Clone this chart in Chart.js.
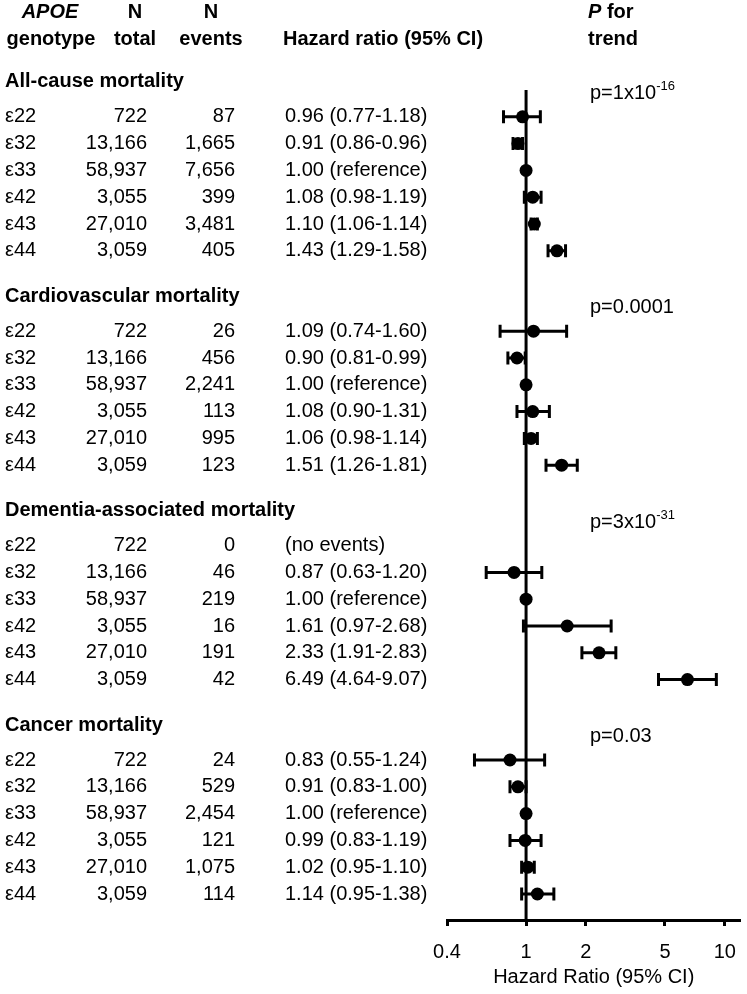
<!DOCTYPE html>
<html>
<head>
<meta charset="utf-8">
<script src="https://cdn.jsdelivr.net/npm/chart.js@4.4.1/dist/chart.umd.min.js"></script>
<style>
body{margin:0;background:#fff;}
</style>
</head>
<body>
<canvas id="myChart" width="747" height="994"></canvas>
<script>
var genotypes=['ε22','ε32','ε33','ε42','ε43','ε44'];
var outcomes=['All-cause mortality','Cardiovascular mortality','Dementia-associated mortality','Cancer mortality'];
var nTotal=['722','13,166','58,937','3,055','27,010','3,059'];
var nEvents=[
    ['87','1,665','7,656','399','3,481','405'],
    ['26','456','2,241','113','995','123'],
    ['0','46','219','16','191','42'],
    ['24','529','2,454','121','1,075','114']
];
// hazard ratios, null = no events
var hr=[
    [0.96,0.91,1.00,1.08,1.10,1.43],
    [1.09,0.90,1.00,1.08,1.06,1.51],
    [null,0.87,1.00,1.61,2.33,6.49],
    [0.83,0.91,1.00,0.99,1.02,1.14]
];
// lower / upper 95% CI, null for reference row
var lower=[
    [0.77,0.86,null,0.98,1.06,1.29],
    [0.74,0.81,null,0.90,0.98,1.26],
    [null,0.63,null,0.97,1.91,4.64],
    [0.55,0.83,null,0.83,0.95,0.95]
];
var upper=[
    [1.18,0.96,null,1.19,1.14,1.58],
    [1.60,0.99,null,1.31,1.14,1.81],
    [null,1.20,null,2.68,2.83,9.07],
    [1.24,1.00,null,1.19,1.10,1.38]
];
var pTrend=['p=1x10','p=0.0001','p=3x10','p=0.03'];
var pExp=['-16','','-31',''];
var xTicks=[0.4,1,2,5,10];

var FONT='"Liberation Sans", Arial, sans-serif';

// row position in "row units" on the y scale
function rowPos(g,r){
    return g*8+1.3+r;
}
function headPos(g){
    return g*8;
}

function hrLabel(g,r){
    if(hr[g][r]===null){
        return '(no events)';
    }
    if(lower[g][r]===null){
        return hr[g][r].toFixed(2)+' (reference)';
    }
    return hr[g][r].toFixed(2)+' ('+lower[g][r].toFixed(2)+'-'+upper[g][r].toFixed(2)+')';
}

var points=[];
for(var g=0;g<outcomes.length;g++){
    for(var r=0;r<genotypes.length;r++){
        if(hr[g][r]!==null){
            points.push({x:hr[g][r],y:rowPos(g,r)});
        }
    }
}

var errorBars={
    id:'errorBars',
    beforeDatasetsDraw:function(chart){
        var ctx=chart.ctx;
        var xs=chart.scales.x;
        var ys=chart.scales.y;
        ctx.save();
        ctx.strokeStyle='#000';
        ctx.lineWidth=3;
        // line of no effect
        var x1=xs.getPixelForValue(1);
        ctx.beginPath();
        ctx.moveTo(x1,chart.chartArea.top);
        ctx.lineTo(x1,chart.chartArea.bottom);
        ctx.stroke();
        for(var g=0;g<outcomes.length;g++){
            for(var r=0;r<genotypes.length;r++){
                if(lower[g][r]===null) continue;
                var y=ys.getPixelForValue(rowPos(g,r));
                var a=xs.getPixelForValue(lower[g][r]);
                var b=xs.getPixelForValue(upper[g][r]);
                ctx.beginPath();
                ctx.moveTo(a,y);ctx.lineTo(b,y);
                ctx.moveTo(a,y-6.5);ctx.lineTo(a,y+6.5);
                ctx.moveTo(b,y-6.5);ctx.lineTo(b,y+6.5);
                ctx.stroke();
            }
        }
        ctx.restore();
    }
};

var tableText={
    id:'tableText',
    afterDraw:function(chart){
        var ctx=chart.ctx;
        var ys=chart.scales.y;
        ctx.save();
        ctx.fillStyle='#000';
        ctx.textBaseline='middle';

        // column headers
        var h1=ys.getPixelForValue(-2.61);
        var h2=ys.getPixelForValue(-1.6);
        ctx.textAlign='center';
        ctx.font='italic bold 20px '+FONT;
        ctx.fillText('APOE',50,h1);
        ctx.font='bold 20px '+FONT;
        ctx.fillText('genotype',51,h2);
        ctx.fillText('N',135,h1);
        ctx.fillText('total',135,h2);
        ctx.fillText('N',211,h1);
        ctx.fillText('events',211,h2);
        ctx.textAlign='left';
        ctx.fillText('Hazard ratio (95% CI)',283,h2);
        ctx.font='italic bold 20px '+FONT;
        ctx.fillText('P',588,h1);
        var pw=ctx.measureText('P').width;
        ctx.font='bold 20px '+FONT;
        ctx.fillText(' for',588+pw,h1);
        ctx.fillText('trend',588,h2);

        for(var g=0;g<outcomes.length;g++){
            ctx.font='bold 20px '+FONT;
            ctx.textAlign='left';
            ctx.fillText(outcomes[g],5,ys.getPixelForValue(headPos(g)));

            // p for trend
            ctx.font='20px '+FONT;
            var py=ys.getPixelForValue(headPos(g)+0.42);
            ctx.fillText(pTrend[g],590,py);
            if(pExp[g]!==''){
                var w=ctx.measureText(pTrend[g]).width;
                ctx.font='13px '+FONT;
                ctx.fillText(pExp[g],590+w,py-7);
            }

            ctx.font='20px '+FONT;
            for(var r=0;r<genotypes.length;r++){
                var y=ys.getPixelForValue(rowPos(g,r));
                ctx.textAlign='left';
                ctx.fillText(genotypes[r],5,y);
                ctx.textAlign='right';
                ctx.fillText(nTotal[r],147,y);
                ctx.fillText(nEvents[g][r],235,y);
                ctx.textAlign='left';
                ctx.fillText(hrLabel(g,r),285,y);
            }
        }
        ctx.restore();
    }
};

const config={
    type:'scatter',
    data:{
        datasets:[{
            data:points,
            pointRadius:6.5,
            pointHoverRadius:6.5,
            pointBackgroundColor:'#000',
            pointBorderColor:'#000',
            pointBorderWidth:0
        }]
    },
    options:{
        responsive:false,
        animation:false,
        layout:{
            padding:{left:447,right:3,top:90,bottom:1}
        },
        scales:{
            x:{
                type:'logarithmic',
                min:0.4,
                max:12,
                afterBuildTicks:function(axis){
                    axis.ticks=xTicks.map(function(v){return {value:v};});
                },
                afterFit:function(axis){
                    axis.height=73;
                    // labels fit inside, don't let them shrink the plot
                    axis.paddingLeft=0;
                    axis.paddingRight=0;
                },
                ticks:{
                    autoSkip:false,
                    maxRotation:0,
                    padding:14,
                    color:'#000',
                    font:{family:FONT,size:20},
                    callback:function(v){return String(v);}
                },
                grid:{
                    drawOnChartArea:false,
                    drawTicks:true,
                    tickLength:6,
                    tickWidth:3,
                    tickColor:'#000'
                },
                border:{display:true,width:3,color:'#000'},
                title:{
                    display:true,
                    text:'Hazard Ratio (95% CI)',
                    color:'#000',
                    font:{family:FONT,size:20}
                }
            },
            y:{
                type:'linear',
                display:false,
                reverse:true,
                min:0.3,
                max:31.27
            }
        },
        plugins:{
            legend:{display:false},
            tooltip:{enabled:false}
        }
    },
    plugins:[errorBars,tableText]
};

const myChart=new Chart(document.getElementById('myChart'),config);
</script>
</body>
</html>
